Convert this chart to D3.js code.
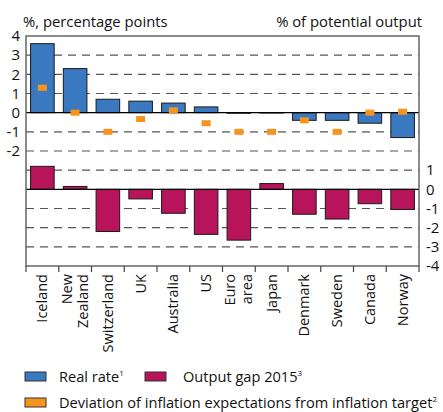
<!DOCTYPE html>
<html>
<head>
<meta charset="utf-8">
<script src="https://cdn.jsdelivr.net/npm/d3@7"></script>
<style>
  body { margin: 0; background: #fff; }
  svg { font-family: "Open Sans", sans-serif; }
</style>
</head>
<body>
<svg class="chart"></svg>
<script>
// data
var categories = ["Iceland", "New Zealand", "Switzerland", "UK", "Australia", "US",
                  "Euro area", "Japan", "Denmark", "Sweden", "Canada", "Norway"];
var tickLabels = [["Iceland"], ["New", "Zealand"], ["Switzerland"], ["UK"], ["Australia"], ["US"],
                  ["Euro", "area"], ["Japan"], ["Denmark"], ["Sweden"], ["Canada"], ["Norway"]];
var realRate = [3.6, 2.3, 0.7, 0.6, 0.5, 0.3, -0.03, -0.02, -0.4, -0.4, -0.55, -1.3];
var inflDev = [1.3, 0.0, -1.0, -0.33, 0.12, -0.55, -1.0, -1.0, -0.4, -1.0, 0.0, 0.05];
var outputGap = [1.2, 0.15, -2.2, -0.5, -1.25, -2.35, -2.65, 0.3, -1.3, -1.55, -0.75, -1.05];
var leftTicks = [4, 3, 2, 1, 0, -1, -2];
var rightTicks = [1, 0, -1, -2, -3, -4];

var width = 443;
var height = 412;
var fLeft = 26, fRight = 419, fTop = 36, fBottom = 266;

var svg = d3.select(".chart").attr("width", width).attr("height", height);

var x = d3.scaleBand().domain(categories).range([fLeft, fRight])
  .paddingInner(0.28).paddingOuter(0.14);
// left axis (upper panel) and right axis (lower panel) share one frame
var y = d3.scaleLinear().domain([4, -8]).range([fTop, fBottom]);
var yR = d3.scaleLinear().domain([8, -4]).range([fTop, fBottom]);

// grid
var gridVals = d3.range(-7, 4).filter(function(v){ return v !== 0 && v !== -4; });
svg.selectAll("line.grid").data(gridVals).enter().append("line")
  .attr("class", "grid")
  .attr("x1", fLeft).attr("x2", fRight)
  .attr("y1", function(d){ return y(d); }).attr("y2", function(d){ return y(d); })
  .attr("stroke", "#555").attr("stroke-width", 1.2)
  .attr("stroke-dasharray", "8,6");

// real rate bars
svg.selectAll("rect.real").data(realRate).enter().append("rect")
  .attr("class", "real")
  .attr("x", function(d, i){ return x(categories[i]); })
  .attr("width", x.bandwidth())
  .attr("y", function(d){ return y(Math.max(0, d)); })
  .attr("height", function(d){ return Math.abs(y(d) - y(0)); })
  .attr("fill", "#3a78c0").attr("stroke", "#1a1a1a").attr("stroke-width", 1);

// output gap bars, on the right scale
svg.selectAll("rect.gap").data(outputGap).enter().append("rect")
  .attr("class", "gap")
  .attr("x", function(d, i){ return x(categories[i]); })
  .attr("width", x.bandwidth())
  .attr("y", function(d){ return yR(Math.max(0, d)); })
  .attr("height", function(d){ return Math.abs(yR(d) - yR(0)); })
  .attr("fill", "#b8145c").attr("stroke", "#1a1a1a").attr("stroke-width", 1);

// zero lines
[y(0), yR(0)].forEach(function(yy){
  svg.append("line").attr("x1", fLeft).attr("x2", fRight)
    .attr("y1", yy).attr("y2", yy)
    .attr("stroke", "#000").attr("stroke-width", 1.3);
});

// inflation deviation markers
svg.selectAll("rect.dev").data(inflDev).enter().append("rect")
  .attr("class", "dev")
  .attr("x", function(d, i){ return x(categories[i]) + x.bandwidth()/2 - 4.5; })
  .attr("y", function(d){ return y(d) - 3; })
  .attr("width", 9).attr("height", 6)
  .attr("fill", "#f7941d");

// frame
svg.append("rect").attr("x", fLeft).attr("y", fTop)
  .attr("width", fRight - fLeft).attr("height", fBottom - fTop)
  .attr("fill", "none").attr("stroke", "#666").attr("stroke-width", 1.5);

// category ticks below the frame
svg.selectAll("line.xtick").data(d3.range(categories.length + 1)).enter().append("line")
  .attr("class", "xtick")
  .attr("x1", function(d){ return fLeft + d*(fRight-fLeft)/categories.length; })
  .attr("x2", function(d){ return fLeft + d*(fRight-fLeft)/categories.length; })
  .attr("y1", fBottom).attr("y2", fBottom + 6)
  .attr("stroke", "#444").attr("stroke-width", 1.2);

// y axes
var axL = svg.append("g").attr("transform", "translate(" + fLeft + ",0)")
  .call(d3.axisLeft(y).tickValues(leftTicks).tickSize(0).tickPadding(6)
    .tickFormat(function(d){ return String(d); }));
var axR = svg.append("g").attr("transform", "translate(" + fRight + ",0)")
  .call(d3.axisRight(yR).tickValues(rightTicks).tickSize(0).tickPadding(7)
    .tickFormat(function(d){ return String(d); }));
[axL, axR].forEach(function(ax){
  ax.select(".domain").remove();
  ax.selectAll("text").attr("font-size", 15).attr("fill", "#111")
    .attr("font-family", "Open Sans, sans-serif");
});

// category labels
var lab = svg.selectAll("g.lab").data(tickLabels).enter().append("g")
  .attr("class", "lab")
  .attr("transform", function(d, i){
    return "translate(" + (x(categories[i]) + x.bandwidth()/2) + "," + (fBottom + 8) + ") rotate(-90)";
  });
lab.each(function(d){
  var g = d3.select(this);
  d.forEach(function(t, j){
    var off = d.length === 1 ? 0 : (j === 0 ? -8.5 : 8);
    g.append("text").attr("x", 0).attr("y", off + 5)
      .attr("text-anchor", "end").attr("font-size", 14.5).attr("fill", "#111")
      .text(t);
  });
});

// unit labels
svg.append("text").attr("x", 23).attr("y", 27).attr("font-size", 14.8).attr("fill", "#111")
  .text("%, percentage points");
svg.append("text").attr("x", 422).attr("y", 27).attr("text-anchor", "end")
  .attr("font-size", 14.8).attr("fill", "#111")
  .text("% of potential output");

// legend
var legend = [
  {name: "Real rate", sup: "1", color: "#3a78c0", sx: 25, tx: 59, ty: 382},
  {name: "Output gap 2015", sup: "3", color: "#b8145c", sx: 145, tx: 183, ty: 382},
  {name: "Deviation of inflation expectations from inflation target", sup: "2", color: "#f7941d", sx: 25, tx: 59, ty: 408}
];
legend.forEach(function(l){
  svg.append("rect").attr("x", l.sx).attr("y", l.ty - 10).attr("width", 21).attr("height", 9)
    .attr("fill", l.color).attr("stroke", "#333").attr("stroke-width", 1);
  var t = svg.append("text").attr("x", l.tx).attr("y", l.ty)
    .attr("font-size", 14.6).attr("fill", "#111");
  t.append("tspan").text(l.name);
  t.append("tspan").attr("font-size", 8).attr("dy", -6).text(l.sup);
});
</script>
</body>
</html>
